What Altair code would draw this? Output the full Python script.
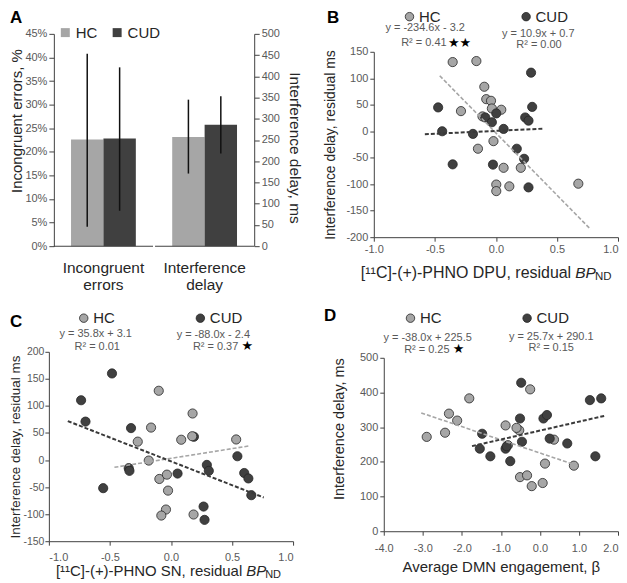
import altair as alt
import pandas as pd

# ---------------- data ----------------
groups = ["HC", "CUD"]

# Panel A
a_categories = ["Incongruent errors", "Interference delay"]
a_errors_mean = [0.226, 0.228]
a_errors_low = [0.041, 0.075]
a_errors_high = [0.408, 0.379]
a_delay_mean = [257, 286]
a_delay_low = [171, 218]
a_delay_high = [345, 353]
a_err_ticks = [0, 0.05, 0.10, 0.15, 0.20, 0.25, 0.30, 0.35, 0.40, 0.45]
a_delay_ticks = [0, 50, 100, 150, 200, 250, 300, 350, 400, 450, 500]

# Panel B
b_hc_x = [-0.354, -0.16, -0.095, -0.079, -0.04, -0.033, 0.044, -0.286, -0.11, -0.02, -0.147, 0.063, 0.204, 0.003, 0.003, 0.11, 0.675]
b_hc_y = [130.6, 132.5, 84, 60.6, 57.5, 43, 40.6, 38, 28, -18.7, -33, -69, -69, -100.6, -113, -104, -99]
b_cud_x = [0.288, -0.473, 0.297, 0.24, 0.267, 0.003, -0.087, -0.033, 0.063, -0.44, -0.188, 0.171, 0.231, -0.354, -0.024, 0.267]
b_cud_y = [110.6, 45, 46, 26, 20, 33.7, 26, 17, 4.4, 0, -5, -33, -52, -62.5, -63, -106]
b_fit_slope = [-234.6, 10.9]
b_fit_intercept = [-3.2, 0.7]
b_fit_xrange = [[-0.46, 0.776], [-0.582, 0.381]]
b_equations = ["y = -234.6x - 3.2", "y = 10.9x + 0.7"]
b_r2 = ["R² = 0.41", "R² = 0.00"]

# Panel C
c_hc_x = [-0.1, 0.177, -0.163, -0.272, 0.084, 0.174, 0.534, -0.182, -0.095, -0.033, -0.024, -0.041, -0.079, 0.185]
c_hc_y = [128, 86, 60, 34, 37.5, 44, 38, -1, -35, -27, -56.5, -91.5, -102.6, -100.7]
c_cud_x = [-0.483, -0.736, -0.7, -0.327, -0.346, -0.34, -0.555, 0.054, 0.294, 0.31, 0.188, 0.544, 0.6, 0.634, 0.658, 0.267, 0.275]
c_cud_y = [160, 110.5, 71, 59, -15, -20, -52, -25, -9, -20, 43, 7, -24, -34, -65, -86, -110.6]
c_fit_slope = [35.8, -88.0]
c_fit_intercept = [3.1, -2.4]
c_fit_xrange = [[-0.463, 0.64], [-0.845, 0.76]]
c_equations = ["y = 35.8x + 3.1", "y = -88.0x - 2.4"]
c_r2 = ["R² = 0.01", "R² = 0.37"]

# Panel D
d_hc_x = [-2.9, -2.43, -2.33, -2.12, -1.81, -0.88, -0.53, -0.6, -0.25, 0.36, 0.13, 0.87, -0.51, -0.33, -0.21, 0.07, -0.82]
d_hc_y = [272, 284, 339, 319, 383, 305, 291, 298, 409, 264, 195, 189, 156, 161, 130, 139, 248]
d_cud_x = [-0.48, 1.28, 1.57, -0.51, 0.09, 0.18, -1.48, -0.46, 0.25, 0.7, -1.54, -1.27, -0.88, -0.85, -0.76, 1.42]
d_cud_y = [428, 378, 383, 325, 325, 335, 281, 258, 267, 253, 238, 216, 238, 245, 202, 216]
d_fit_slope = [-38.0, 25.7]
d_fit_intercept = [225.5, 290.1]
d_fit_xrange = [[-3.04, 0.86], [-1.74, 1.68]]
d_equations = ["y = -38.0x + 225.5", "y = 25.7x + 290.1"]
d_r2 = ["R² = 0.25", "R² = 0.15"]

# ---------------- style ----------------
FONT = "Liberation Sans"
DARK = "#262626"
GRAY = "#595959"
AXLINE = "#404040"
HC_FILL = "#a6a6a6"
CUD_FILL = "#404040"
PT_STROKE = "#262626"

NUM_LABEL = "datum.value < 0 ? '-' + format(-datum.value, '{f}') : format(datum.value, '{f}')"


def txt(s, x, y, size=11, color=GRAY, align="center", baseline="middle",
        weight="normal", style="normal", font=FONT):
    return alt.Chart(pd.DataFrame({"t": [s]})).mark_text(
        align=align, baseline=baseline, fontSize=size, color=color, font=font,
        fontWeight=weight, fontStyle=style
    ).encode(text="t:N", x=alt.value(x), y=alt.value(y))


# ---------------- panel A ----------------
# group origin = page (47, 33); plot area x 5..206, y 0..213
A_W, A_H = 206, 213
X_A = alt.X("category:N", sort=a_categories,
            scale=alt.Scale(domain=a_categories, range=[5, A_W], paddingInner=0.02,
                            paddingOuter=0),
            axis=alt.Axis(title=None, domain=False, ticks=False, labelAngle=0,
                          labelExpr="split(datum.label, ' ')", labelFontSize=15.5,
                          labelColor=DARK, labelPadding=14, labelLineHeight=17))
XOFF_A = alt.XOffset("group:N", sort=groups,
                     scale=alt.Scale(domain=groups, paddingOuter=0.53, paddingInner=0))
COLOR_A = alt.Color("group:N", sort=groups,
                    scale=alt.Scale(domain=groups, range=[HC_FILL, CUD_FILL]),
                    legend=alt.Legend(orient="none", legendX=9, legendY=-9, direction="horizontal",
                                      title=None, symbolType="square", symbolSize=81,
                                      symbolStrokeWidth=0, labelFontSize=15, labelColor=DARK,
                                      labelFont=FONT, columnPadding=12, labelOffset=3, padding=0))

err_df = pd.DataFrame({"category": a_categories[0], "group": groups, "mean": a_errors_mean,
                       "low": a_errors_low, "high": a_errors_high})
delay_df = pd.DataFrame({"category": a_categories[1], "group": groups, "mean": a_delay_mean,
                         "low": a_delay_low, "high": a_delay_high})

err_axis = alt.Axis(values=a_err_ticks, format=".0%", title="Incongruent errors, %",
                    titleFontSize=15, titlePadding=0, titleY=87, tickSize=5, orient="left",
                    offset=-5)
err_scale = alt.Scale(domain=[0, 0.45], nice=False)
delay_axis = alt.Axis(values=a_delay_ticks, title="Interference delay, ms", orient="right",
                      titleFontSize=15.5, titlePadding=7, titleY=114, tickSize=5)
delay_scale = alt.Scale(domain=[0, 500], nice=False)

err_layer = alt.layer(
    alt.Chart(err_df).mark_bar().encode(x=X_A, xOffset=XOFF_A, color=COLOR_A,
                                        y=alt.Y("mean:Q", scale=err_scale, axis=err_axis)),
    alt.Chart(err_df).mark_rule(color="#111111", strokeWidth=1.5).encode(
        x=X_A, xOffset=XOFF_A, y=alt.Y("low:Q", scale=err_scale, axis=err_axis), y2="high:Q"),
)
delay_layer = alt.layer(
    alt.Chart(delay_df).mark_bar().encode(x=X_A, xOffset=XOFF_A, color=COLOR_A,
                                          y=alt.Y("mean:Q", scale=delay_scale, axis=delay_axis)),
    alt.Chart(delay_df).mark_rule(color="#111111", strokeWidth=1.5).encode(
        x=X_A, xOffset=XOFF_A, y=alt.Y("low:Q", scale=delay_scale, axis=delay_axis), y2="high:Q"),
)
baseline_a = alt.Chart(pd.DataFrame({"category": a_categories})).mark_rect(color=AXLINE).encode(
    x=X_A, y=alt.value(A_H - 0.5), y2=alt.value(A_H + 0.7))

panel_a = alt.layer(
    err_layer, delay_layer, baseline_a,
    txt("A", -39, -24, size=17, color="black", align="left", baseline="top", weight="bold"),
).resolve_scale(y="independent").properties(width=A_W, height=A_H)


# ---------------- scatter panels ----------------
def scatter_panel(letter, letter_xy, hc_x, hc_y, cud_x, cud_y, slopes, intercepts, xranges,
                  equations, r2, eq_pos, star_text, star_pos, hc_first,
                  x_dom, x_vals, y_dom, y_vals, width, height, x_range, y_range,
                  legend_xy, y_axis_kw, x_axis_kw, x_title_parts=None):
    hc = pd.DataFrame({"x": hc_x, "y": hc_y, "group": "HC"})
    cud = pd.DataFrame({"x": cud_x, "y": cud_y, "group": "CUD"})
    pts = pd.concat([hc, cud] if hc_first else [cud, hc], ignore_index=True)

    xs = alt.Scale(domain=x_dom, range=x_range, nice=False, zero=False)
    ys = alt.Scale(domain=y_dom, range=y_range, nice=False, zero=False)
    x_axis = alt.Axis(values=x_vals, labelExpr=NUM_LABEL.format(f=".1f"), tickSize=4,
                      **x_axis_kw)
    y_axis = alt.Axis(values=y_vals, labelExpr=NUM_LABEL.format(f="d"), tickSize=4,
                      offset=-x_range[0], **y_axis_kw)
    X = alt.X("x:Q", scale=xs, axis=x_axis)
    Y = alt.Y("y:Q", scale=ys, axis=y_axis)

    color = alt.Color("group:N", sort=groups,
                      scale=alt.Scale(domain=groups, range=[HC_FILL, CUD_FILL]),
                      legend=alt.Legend(orient="none", legendX=legend_xy[0], legendY=legend_xy[1],
                                        direction="horizontal", title=None, symbolType="circle",
                                        symbolSize=72, symbolStrokeColor=PT_STROKE,
                                        symbolStrokeWidth=0.8, labelFontSize=15, labelColor=DARK,
                                        labelFont=FONT, columnPadding=78, labelOffset=2,
                                        padding=0))
    points = alt.Chart(pts).mark_circle(size=85, opacity=1, stroke=PT_STROKE,
                                        strokeWidth=0.8).encode(x=X, y=Y, color=color)

    layers = [points]
    line_colors = [HC_FILL, "#3a3a3a"]
    line_widths = [1.6, 2.0]
    for i, g in enumerate(groups):
        fdf = pd.DataFrame({"x": xranges[i], "slope": slopes[i], "intercept": intercepts[i]})
        layers.append(
            alt.Chart(fdf).transform_calculate(y="datum.slope * datum.x + datum.intercept")
            .mark_line(color=line_colors[i], strokeWidth=line_widths[i], strokeDash=[4, 2])
            .encode(x=X, y=Y))

    layers.append(txt(letter, letter_xy[0], letter_xy[1], size=17, color="black",
                      align="left", baseline="top", weight="bold"))
    for i in range(2):
        (ex, ey), (rx, ry, ralign) = eq_pos[i]
        layers.append(txt(equations[i], ex, ey))
        layers.append(txt(r2[i], rx, ry, align=ralign))
    layers.append(txt(star_text, star_pos[0], star_pos[1], size=13, color="black",
                      font="DejaVu Sans"))
    if x_title_parts is not None:
        main, xr, yc, ms, bs, ns, nx = x_title_parts
        layers.append(txt(main, xr, yc, size=ms, color=DARK, align="right"))
        layers.append(txt("BP", xr + 4, yc, size=bs, color=DARK, align="left", style="italic"))
        layers.append(txt("ND", xr + nx, yc + 4, size=ns, color=DARK, align="left"))
    return alt.layer(*layers).properties(width=width, height=height)


def last_right(v):
    return {"condition": {"test": f"datum.value >= {v}", "value": "right"}, "value": "center"}


# B: group origin page (373, 33); plot y 18..204
panel_b = scatter_panel(
    "B", (-47, -24), b_hc_x, b_hc_y, b_cud_x, b_cud_y, b_fit_slope, b_fit_intercept,
    b_fit_xrange, b_equations, b_r2,
    [((51.5, -5.5), (73, 8.7, "right")), ((165, -0.3), (165.7, 11.3, "center"))],
    "★★", (86, 8.7), True,
    [-1, 1], [-1, -0.5, 0, 0.5, 1], [-200, 150], list(range(-200, 151, 50)),
    245, 204, [0, 245], [204, 18], (28.3, -25),
    dict(title="Interference delay, residual ms", titleFontSize=14, titlePadding=8),
    dict(title=None, labelPadding=2.5, labelAlign=last_right(1)),
    ("[¹¹C]-(+)-PHNO DPU, residual", 198, 240, 16, 15.5, 11.5, 24),
)

# C: group origin page (47, 352)
panel_c = scatter_panel(
    "C", (-39, -38), c_hc_x, c_hc_y, c_cud_x, c_cud_y, c_fit_slope, c_fit_intercept,
    c_fit_xrange, c_equations, c_r2,
    [((47, -18), (48.5, -5, "center")), ((165, -17), (190, -5, "right"))],
    "★", (199, -6), False,
    [-1, 1], [-1, -0.5, 0, 0.5, 1], [-150, 200], list(range(-150, 201, 50)),
    245, 190, [0, 245], [190, 0], (27.5, -41.5),
    dict(title="Interference delay, residual ms", titleFontSize=13.5, titlePadding=0.5,
         labelPadding=1, labelFontSize=10.5),
    dict(title=None, labelPadding=6),
    ("[¹¹C]-(+)-PHNO SN, residual", 194, 220, 15, 15, 11, 23),
)

# D: group origin page (373, 352); plot x 10..245, y 6..180
panel_d = scatter_panel(
    "D", (-50, -44), d_hc_x, d_hc_y, d_cud_x, d_cud_y, d_fit_slope, d_fit_intercept,
    d_fit_xrange, d_equations, d_r2,
    [((54, -14), (76, -2, "right")), ((178, -15), (178, -4, "center"))],
    "★", (85, -3), True,
    [-4, 2], [-4, -3, -2, -1, 0, 1, 2], [0, 500], list(range(0, 501, 100)),
    245, 180, [10, 245], [180, 6], (29.3, -41.5),
    dict(title="Interference delay, ms", titleFontSize=14.5, titlePadding=13, titleY=77),
    dict(title="Average DMN engagement, β", titleFontSize=15, titlePadding=6,
         labelPadding=7, titleColor=DARK, labelAlign=last_right(2)),
)

# ---------------- layout ----------------
chart = alt.concat(
    panel_a, panel_b, panel_c, panel_d, columns=2,
    spacing={"row": 106, "column": 81}, bounds="flush",
).resolve_scale(color="independent").properties(padding=0).configure_view(
    stroke=None
).configure_axis(
    grid=False, labelFont=FONT, titleFont=FONT, labelColor=GRAY, titleColor=DARK,
    domainColor=AXLINE, tickColor=AXLINE, titleFontWeight="normal", labelFontSize=11,
    labelPadding=2,
)

chart.save("out.html", embed_options={"renderer": "svg", "actions": False})
